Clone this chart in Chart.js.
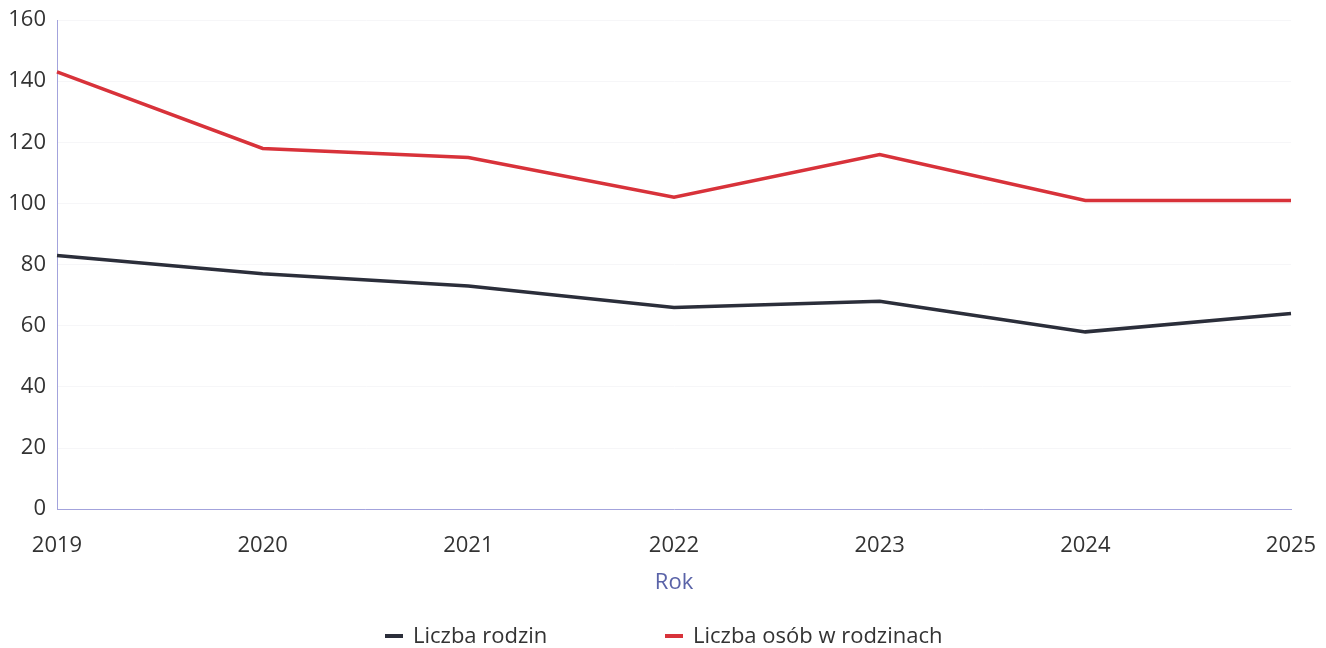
<!DOCTYPE html>
<html>
<head>
<meta charset="utf-8">
<script src="https://cdn.jsdelivr.net/npm/chart.js@4"></script>
<style>
  html, body { margin: 0; padding: 0; background: #ffffff; }
  #wrap { position: relative; width: 1326px; height: 648px; }
  #legend { position: absolute; left: 0; top: 620px; width: 1326px; height: 28px; font-family: "Open Sans", sans-serif; font-size: 22px; color: #333; }
  .item { position: absolute; top: 0; height: 28px; line-height: 28px; white-space: nowrap; }
  .mark { display: inline-block; width: 18px; height: 4px; vertical-align: middle; margin-right: 10px; position: relative; top: -1px; }
</style>
</head>
<body>
<div id="wrap">
  <canvas id="c" width="1326" height="648"></canvas>
  <div id="legend"></div>
</div>
<script>
const years = ["2019", "2020", "2021", "2022", "2023", "2024", "2025"];
const liczbaRodzin = [83, 77, 73, 66, 68, 58, 64];
const liczbaOsob = [143, 118, 115, 102, 116, 101, 101];
const seriesNames = ["Liczba rodzin", "Liczba osób w rodzinach"];
const seriesColors = ["#2b2e3a", "#d8323a"];
const yTicks = [0, 20, 40, 60, 80, 100, 120, 140, 160];
const axisTitle = "Rok";

const font = "'Open Sans', sans-serif";

const chart = new Chart(document.getElementById('c'), {
  type: 'line',
  data: {
    labels: years,
    datasets: [
      { label: seriesNames[0], data: liczbaRodzin, borderColor: seriesColors[0], backgroundColor: seriesColors[0], borderWidth: 3.5, pointRadius: 0, tension: 0 },
      { label: seriesNames[1], data: liczbaOsob, borderColor: seriesColors[1], backgroundColor: seriesColors[1], borderWidth: 3.5, pointRadius: 0, tension: 0 }
    ]
  },
  options: {
    responsive: false,
    animation: false,
    layout: { padding: { top: 20, right: 35, bottom: 48, left: 0 } },
    plugins: { legend: { display: false }, tooltip: { enabled: false } },
    scales: {
      x: {
        offset: false,
        afterFit: (s) => { s.paddingLeft = 0; s.paddingRight = 0; },
        grid: { display: false, drawTicks: false },
        border: { display: true, color: '#a3a3dc', width: 1 },
        ticks: { color: '#333', font: { family: font, size: 22 }, padding: 23, maxRotation: 0, autoSkip: false },
        title: { display: true, text: axisTitle, color: '#5a63a8', font: { family: font, size: 22 }, padding: { top: -12, bottom: 4 } }
      },
      y: {
        min: yTicks[0], max: yTicks[yTicks.length - 1],
        afterBuildTicks: (s) => { s.ticks = yTicks.map(v => ({ value: v })); },
        afterFit: (s) => { s.width = 57; s.paddingTop = 0; s.paddingBottom = 0; },
        grid: { color: '#f6f6f8', drawTicks: false },
        border: { display: true, color: '#a3a3dc', width: 1 },
        ticks: { color: '#333', font: { family: font, size: 22 }, padding: 11 }
      }
    }
  }
});

const legend = document.getElementById('legend');
const positions = [385, 665];
chart.data.datasets.forEach((ds, i) => {
  const d = document.createElement('div');
  d.className = 'item';
  d.style.left = positions[i] + 'px';
  const m = document.createElement('span');
  m.className = 'mark';
  m.style.background = ds.borderColor;
  d.appendChild(m);
  d.appendChild(document.createTextNode(ds.label));
  legend.appendChild(d);
});
</script>
</body>
</html>
